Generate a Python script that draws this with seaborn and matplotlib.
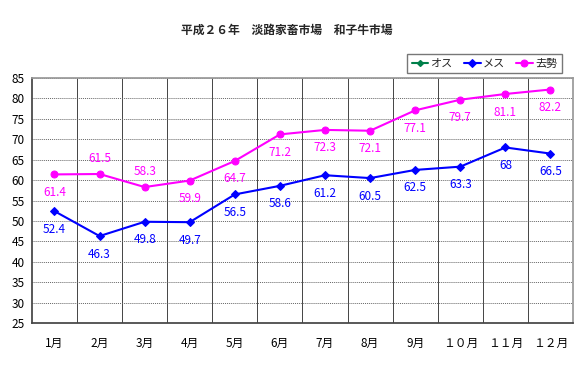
import numpy as np
import pandas as pd
import matplotlib
matplotlib.use("Agg")
import matplotlib.pyplot as plt
import seaborn as sns

sns.set_theme(style="white")
plt.rcParams["font.family"] = ["Noto Sans CJK JP", "DejaVu Sans"]

# ── data ──────────────────────────────────────────────
months = ["1月", "2月", "3月", "4月", "5月", "6月",
          "7月", "8月", "9月", "１０月", "１１月", "１２月"]
osu = [np.nan] * 12
mesu = [52.4, 46.3, 49.8, 49.7, 56.5, 58.6, 61.2, 60.5, 62.5, 63.3, 68, 66.5]
kyosei = [61.4, 61.5, 58.3, 59.9, 64.7, 71.2, 72.3, 72.1, 77.1, 79.7, 81.1, 82.2]
# label placement for 去勢: True = above the point
kyosei_above = [False, True, True, False, False, False,
                False, False, False, False, False, False]

df = pd.DataFrame({"pos": range(len(months)), "オス": osu,
                   "メス": mesu, "去勢": kyosei})

GREEN, BLUE, PINK = "#00804a", "#0000ff", "#ff00ff"

fig = plt.figure(figsize=(5.8, 3.7), dpi=100)
ax = fig.add_axes([0.055, 0.127, 0.933, 0.662])

ax.plot(df["pos"], df["オス"], color=GREEN, lw=1.5, marker="D", ms=3, label="オス")
sns.lineplot(data=df, x="pos", y="メス", ax=ax, color=BLUE, lw=1.5,
             marker="D", markersize=3.8, markeredgecolor=BLUE, label="メス")
sns.lineplot(data=df, x="pos", y="去勢", ax=ax, color=PINK, lw=1.5,
             marker="o", markersize=5, markeredgecolor=PINK, label="去勢")

for i, v in enumerate(mesu):
    ax.annotate(f"{v:g}", (i, v), xytext=(0, -13), textcoords="offset points",
                ha="center", va="center", fontsize=8.5, color=BLUE)
for i, v in enumerate(kyosei):
    dy = 11 if kyosei_above[i] else -13
    ax.annotate(f"{v:g}", (i, v), xytext=(0, dy), textcoords="offset points",
                ha="center", va="center", fontsize=8.5, color=PINK)

ax.set_xlim(-0.5, len(months) - 0.5)
ax.set_ylim(25, 85)
ax.set_yticks(range(25, 90, 5))
ax.set_xticks(range(len(months)))
ax.set_xticklabels(months)
ax.set_xticks(np.arange(0.5, len(months) - 0.5, 1), minor=True)
ax.tick_params(axis="both", which="both", length=0, labelsize=8.5, colors="black")
ax.tick_params(axis="x", pad=10)
ax.tick_params(axis="y", pad=5)
ax.set_xlabel("")
ax.set_ylabel("")

ax.grid(axis="y", which="major", color="#666666", linestyle=(0, (1, 1)), lw=0.7)
ax.grid(axis="x", which="minor", color="#444444", linestyle="-", lw=0.7)
ax.set_axisbelow(True)
for side in ["left", "bottom"]:
    ax.spines[side].set_color("#444444")
for side in ["top", "right"]:
    ax.spines[side].set_color("#999999")

ax.get_legend().remove()
handles, labels = ax.get_legend_handles_labels()
fig.legend(handles, labels, loc="upper right", bbox_to_anchor=(0.978, 0.868),
           ncol=3, fontsize=8, frameon=True, fancybox=False, edgecolor="#555555",
           handlelength=1.5, handletextpad=0.2, columnspacing=1.0,
           borderpad=0.4)

fig.text(0.495, 0.918, "平成２６年　淡路家畜市場　和子牛市場",
         ha="center", va="center", fontsize=8.5, fontweight="bold")

fig.savefig("out.png", dpi=100)
